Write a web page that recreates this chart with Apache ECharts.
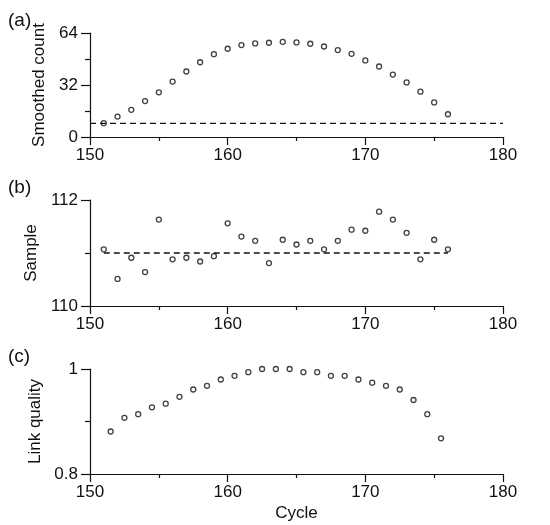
<!DOCTYPE html>
<html><head><meta charset="utf-8">
<script src="https://cdn.jsdelivr.net/npm/echarts@6/dist/echarts.min.js"></script>
<style>html,body{margin:0;padding:0;background:#fff}#c{width:550px;height:525px}</style>
</head><body><div id="c"></div>
<script>
// Panel (a): smoothed count
const cyclesA = [151,152,153,154,155,156,157,158,159,160,161,162,163,164,165,166,167,168,169,170,171,172,173,174,175,176];
const countA = [8.5,12.6,16.7,22.1,27.5,34.1,40.3,46.0,51.0,54.3,56.6,57.6,58.0,58.6,58.2,57.4,55.7,53.5,51.2,47.1,43.4,38.4,33.6,27.9,21.3,14.0];
const thresholdA = 8.4;
const thresholdARange = [150,180];
// Panel (b): sample
const cyclesB = cyclesA;
const sampleB = [111.07,110.51,110.91,110.64,111.63,110.88,110.91,110.84,110.94,111.56,111.31,111.23,110.81,111.25,111.16,111.23,111.07,111.23,111.44,111.42,111.78,111.63,111.38,110.88,111.25,111.07];
const meanB = 111.0;
const meanBRange = [151,176];
// Panel (c): link quality
const cyclesC = [151.5,152.5,153.5,154.5,155.5,156.5,157.5,158.5,159.5,160.5,161.5,162.5,163.5,164.5,165.5,166.5,167.5,168.5,169.5,170.5,171.5,172.5,173.5,174.5,175.5];
const qualityC = [0.881,0.907,0.914,0.927,0.934,0.947,0.961,0.968,0.980,0.987,0.994,1.0,1.0,1.0,0.994,0.994,0.987,0.987,0.980,0.974,0.968,0.961,0.941,0.914,0.868];
const panelLabels = ['(a)','(b)','(c)'];
const yNames = ['Smoothed count','Sample','Link quality'];
const xName = 'Cycle';

const FONT = 'Liberation Sans, Arial, sans-serif';
const black = '#111';
const grids = [
  {left:90, right:47, top:33, height:104},
  {left:90, right:47, top:200, height:106},
  {left:90, right:47, top:369, height:105}
];
function xAx(i, name){
  return {type:'value', gridIndex:i, min:150, max:180, interval:10,
    axisLine:{show:true, lineStyle:{color:black, width:1.2}},
    axisTick:{show:true, length:8, lineStyle:{color:black, width:1.2}},
    minorTick:{show:true, splitNumber:2, length:4, lineStyle:{color:black, width:1.2}},
    splitLine:{show:false},
    axisLabel:{color:black, fontSize:17, fontFamily:FONT, margin:10},
    name:name||'', nameLocation:'middle', nameGap:31,
    nameTextStyle:{color:black, fontSize:17, fontFamily:FONT}};
}
function yAx(i, min, max, interval, name){
  return {type:'value', gridIndex:i, min:min, max:max, interval:interval,
    axisLine:{show:true, lineStyle:{color:black, width:1.2}},
    axisTick:{show:true, length:9, lineStyle:{color:black, width:1.2}},
    minorTick:{show:true, splitNumber:2, length:5, lineStyle:{color:black, width:1.2}},
    splitLine:{show:false},
    axisLabel:{color:black, fontSize:17, fontFamily:FONT, margin:12},
    name:name, nameLocation:'middle', nameGap:37, nameRotate:90,
    nameTextStyle:{color:black, fontSize:17, fontFamily:FONT}};
}
const scatterStyle = {type:'scatter', symbol:'circle', symbolSize:5,
  itemStyle:{color:'#fff', borderColor:black, borderWidth:1.3}};
const dashStyle = {type:'line', symbol:'none', lineStyle:{color:black, width:1.4, type:[6,4]}, silent:true};

const chart = echarts.init(document.getElementById('c'), null, {renderer:'canvas'});
chart.setOption({
  animation:false,
  backgroundColor:'#fff',
  title: panelLabels.map((t,i)=>({text:t, left:3, top:[6,173,342][i],
    textStyle:{fontSize:19, fontWeight:'normal', color:black, fontFamily:FONT}})),
  grid: grids,
  xAxis:[xAx(0), xAx(1), xAx(2, xName)],
  yAxis:[yAx(0,0,64,32,yNames[0]), yAx(1,110,112,2,yNames[1]), yAx(2,0.8,1,0.2,yNames[2])],
  series:[
    Object.assign({}, dashStyle, {xAxisIndex:0, yAxisIndex:0, data:thresholdARange.map(x=>[x,thresholdA])}),
    Object.assign({}, scatterStyle, {xAxisIndex:0, yAxisIndex:0, data:cyclesA.map((x,k)=>[x,countA[k]])}),
    Object.assign({}, dashStyle, {xAxisIndex:1, yAxisIndex:1, data:meanBRange.map(x=>[x,meanB])}),
    Object.assign({}, scatterStyle, {xAxisIndex:1, yAxisIndex:1, data:cyclesB.map((x,k)=>[x,sampleB[k]])}),
    Object.assign({}, scatterStyle, {xAxisIndex:2, yAxisIndex:2, data:cyclesC.map((x,k)=>[x,qualityC[k]])})
  ]
});
</script></body></html>
